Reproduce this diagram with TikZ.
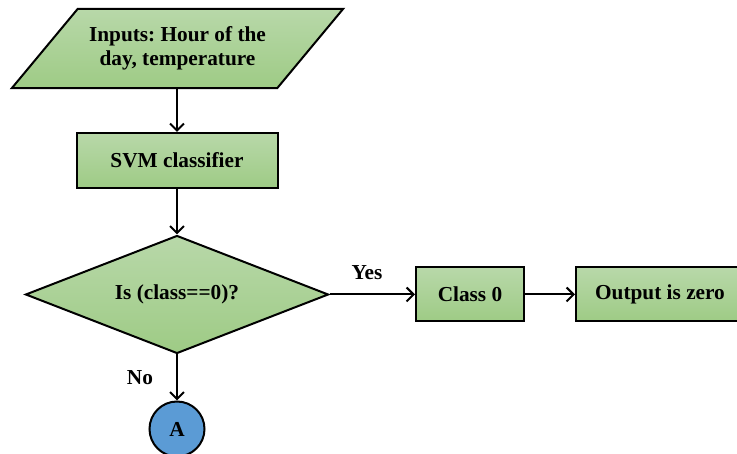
\documentclass[tikz,border=0pt]{standalone}
\usepackage{fontspec}
\setmainfont{Liberation Serif}
\usetikzlibrary{shapes.geometric,arrows.meta}
\definecolor{gtop}{HTML}{B8D8A9}
\definecolor{gbot}{HTML}{9ECB85}
\definecolor{ablue}{HTML}{5B9BD5}
\frenchspacing
\tikzset{
  x=1pt,y=1pt,
  every node/.style={font=\fontsize{21.3}{24}\selectfont\bfseries},
  gshade/.style={top color=gtop,bottom color=gbot,draw=black,line width=2pt},
  procbox/.style={gshade,rectangle,inner sep=0pt},
  conn/.style={line width=2pt,-{Straight Barb[length=7pt,width=14pt,line width=2pt]}},
  lbl/.style={inner sep=0pt}
}
\begin{document}
\begin{tikzpicture}
\useasboundingbox (0,0) rectangle (737,454);
% input parallelogram
\node[rectangle,inner sep=0pt,minimum width=265pt,minimum height=79pt,align=center] (in) at (177.5,405.5) {};
\path[gshade] ([xshift=33pt]in.north west) -- ([xshift=33pt]in.north east) -- ([xshift=-33pt]in.south east) -- ([xshift=-33pt]in.south west) -- cycle;
\node[align=center] (intext) at (in.center) {Inputs: Hour of the\\day, temperature};
% svm
\node[procbox,minimum width=201pt,minimum height=55pt] (svm) at (177,293.5) {SVM classifier};
% decision
\node[gshade,diamond,inner sep=0pt,minimum width=303pt,minimum height=118pt,aspect=2.57] (dec) at (177,159.5) {Is (class==0)?};
% class 0
\node[procbox,minimum width=108pt,minimum height=54pt] (c0) at (470,159.5) {Class 0};
% output
\node[procbox,minimum width=168pt,minimum height=54pt] (out) at (660,159.5) {Output is zero};
% connector A
\node[circle,fill=ablue,draw=black,line width=2pt,minimum size=55pt,inner sep=0pt] (A) at (177,25) {A};
% connectors
\draw[conn] (in.south -| svm.north) -- (svm.north);
\draw[conn] (svm.south) -- (dec.north);
\draw[conn] (dec.east) -- (c0.west);
\draw[conn] (c0.east) -- (out.west);
\draw[conn] (dec.south) -- (A.north);
% labels
\node[lbl] (yes) at (367,181) {Yes};
\node[lbl] (no) at (140,76) {No};
\end{tikzpicture}
\end{document}
